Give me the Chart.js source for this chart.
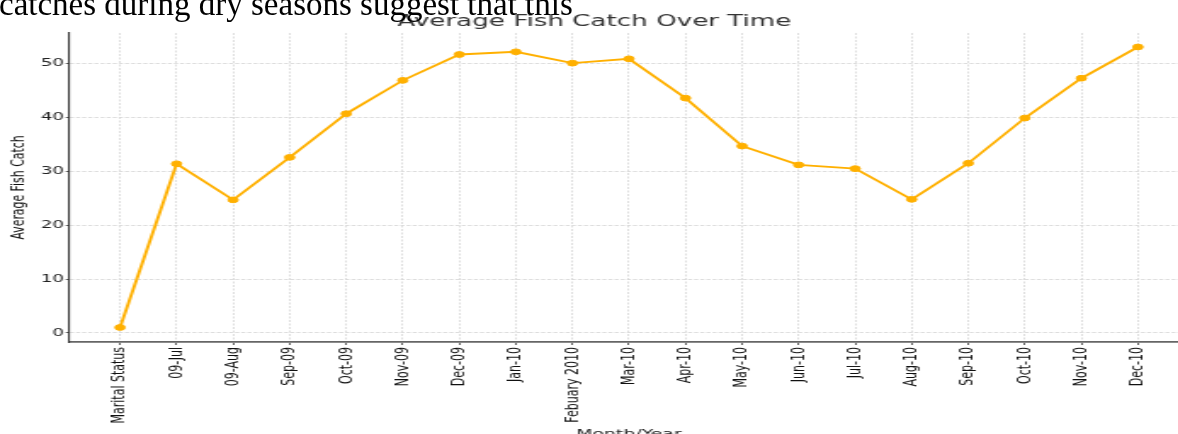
<!DOCTYPE html>
<html>
<head>
<meta charset="utf-8">
<script src="https://cdn.jsdelivr.net/npm/chart.js@4.4.0/dist/chart.umd.min.js"></script>
<style>
html, body { margin:0; padding:0; background:#fff; width:1178px; height:434px; overflow:hidden; position:relative; }
#note { position:absolute; left:-1px; top:-12px; font:33px/33px "Liberation Serif", serif; color:#000; white-space:nowrap; z-index:2; }
#myChart { position:absolute; left:0; top:0; transform-origin:0 0; transform:scaleX(1.7); }
</style>
</head>
<body>
<div id="note">catches during dry seasons suggest that this</div>
<canvas id="myChart" width="740" height="448"></canvas>
<script>
// data
var months = ["Marital Status","09-Jul","09-Aug","Sep-09","Oct-09","Nov-09","Dec-09","Jan-10","Febuary 2010",
              "Mar-10","Apr-10","May-10","Jun-10","Jul-10","Aug-10","Sep-10","Oct-10","Nov-10","Dec-10"];
var avgCatch = [1.0,31.4,24.7,32.6,40.7,46.9,51.7,52.2,50.1,50.9,43.6,34.7,31.2,30.5,24.8,31.5,39.9,47.3,53.1];
var yTicks = [0,10,20,30,40,50];

var ctx = document.getElementById("myChart").getContext('2d');
var myChart = new Chart(ctx, {
    type: 'line',
    data: {
        datasets: [{
            label: 'Average Fish Catch',
            data: avgCatch.map(function(v, i){ return {x:i, y:v}; }),
            borderColor: '#ffb000',
            backgroundColor: '#ffb000',
            borderWidth: 1.9,
            pointRadius: 2.9,
            pointHoverRadius: 2.9,
            pointBorderWidth: 1,
            tension: 0
        }]
    },
    options: {
        responsive: false,
        animation: false,
        layout: { padding: { left:0, right:40.7, top:0, bottom:0 } },
        plugins: {
            legend: { display:false },
            tooltip: { enabled:false },
            title: {
                display: true,
                text: 'Average Fish Catch Over Time',
                color: '#333',
                font: { family:'DejaVu Sans', size:15.4, weight:'normal' },
                padding: { top:13, bottom:1.5 }
            }
        },
        scales: {
            x: {
                type: 'linear',
                min: -0.9,
                max: 18.9,
                afterBuildTicks: function(s){ s.ticks = months.map(function(m, i){ return {value:i}; }); },
                afterFit: function(s){ s.height = 106; },
                ticks: {
                    autoSkip: false, minRotation: 90, maxRotation: 90, padding: 2,
                    color: '#111',
                    font: { family:'DejaVu Sans', size:11 },
                    callback: function(v){ return months[v]; }
                },
                grid: { color:'#d4d4d4', lineWidth:0.8, tickColor:'#333', tickLength:3, tickWidth:0.8 },
                border: { color:'#666', width:1.8, dash:[2,1.5] },
                title: {
                    display: true, text: 'Month/Year', color: '#222',
                    font: { family:'DejaVu Sans', size:11.1 },
                    padding: { top:0, bottom:7 }
                }
            },
            y: {
                min: -1.7,
                max: 55.7,
                afterBuildTicks: function(s){ s.ticks = yTicks.map(function(v){ return {value:v}; }); },
                afterFit: function(s){ s.width = 40.66; },
                ticks: {
                    padding: 1, color: '#222',
                    font: { family:'DejaVu Sans', size:10.8 }
                },
                grid: { color:'#d4d4d4', lineWidth:0.8, tickColor:'#333', tickLength:2, tickWidth:0.8 },
                border: { color:'#333', width:1.1, dash:[2.4,1.2] },
                title: {
                    display: true, text: 'Average Fish Catch', color: '#111',
                    font: { family:'DejaVu Sans', size:10.9 },
                    padding: { top:4.7, bottom:0 }
                }
            }
        }
    }
});
</script>
</body>
</html>
